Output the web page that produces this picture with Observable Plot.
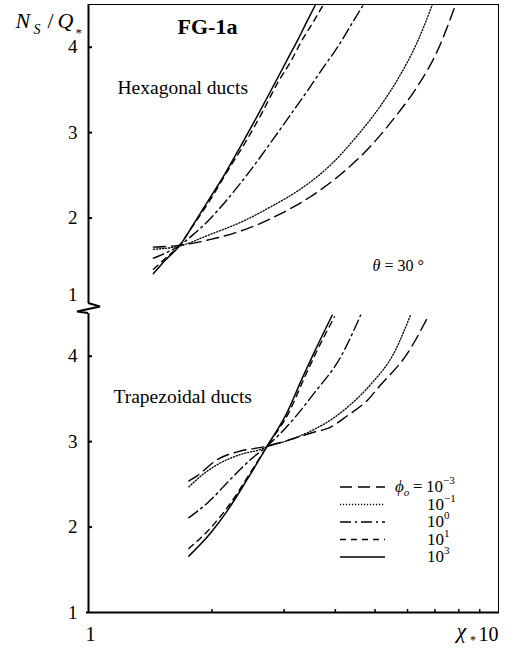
<!DOCTYPE html>
<html>
<head>
<meta charset="utf-8">
<script src="https://cdn.jsdelivr.net/npm/d3@7"></script>
<script src="https://cdn.jsdelivr.net/npm/@observablehq/plot@0.6"></script>
<style>
  html, body { margin: 0; padding: 0; background: #fff; }
  #chart svg { display: block; }
</style>
</head>
<body>
<div id="chart"></div>
<script>
// N_S/Q_* against χ* for two duct shapes, one curve per φo level.
const ducts = ["Hexagonal", "Trapezoidal"];
const phiLevels = ["1e-3", "1e-1", "1e0", "1e1", "1e3"];
const phiExponents = ["\u22123", "\u22121", "0", "1", "3"];
const yTicks = [2, 3, 4];
const yBottomTick = [1];
const xMinorTicks = [2, 3, 4, 5, 6, 7, 8, 9];
const xDomain = [1, 10];
const yDomain = [1, 4.5];

// Hexagonal ducts: [χ*, N_S/Q_*]
const hexPhiM3 = [[1.44,1.66],[1.658,1.68],[1.985,1.75],[2.484,1.89],[2.94,2.05],[3.479,2.25],[4.118,2.51],[4.873,2.84],[5.608,3.19],[6.38,3.56],[7.10,3.96],[7.86,4.5]];
const hexPhiM1 = [[1.44,1.635],[1.658,1.67],[1.985,1.81],[2.349,1.95],[2.779,2.13],[3.289,2.34],[3.892,2.62],[4.479,2.94],[5.096,3.28],[5.703,3.64],[6.31,4.04],[6.90,4.5]];
const hexPhi0 = [[1.44,1.53],[1.541,1.59],[1.658,1.67],[1.794,1.80],[1.951,1.96],[2.147,2.18],[2.349,2.41],[2.584,2.67],[2.827,2.93],[3.11,3.21],[3.421,3.49],[3.722,3.75],[4.05,4.0],[4.355,4.25],[4.686,4.5]];
const hexPhi1 = [[1.44,1.40],[1.541,1.53],[1.658,1.67],[1.804,1.92],[1.973,2.2],[2.183,2.55],[2.402,2.87],[2.642,3.22],[2.891,3.58],[3.145,3.87],[3.289,4.05],[3.518,4.28],[3.743,4.5]];
const hexPhi3 = [[1.44,1.35],[1.541,1.51],[1.658,1.66],[1.794,1.91],[1.951,2.19],[2.159,2.53],[2.349,2.84],[2.584,3.2],[2.827,3.55],[3.074,3.88],[3.235,4.08],[3.402,4.29],[3.58,4.5]];

// Trapezoidal ducts: [χ*, N_S/Q_*]
const trapPhiM3 = [[1.757,2.54],[1.84,2.60],[2.06,2.79],[2.349,2.89],[2.68,2.94],[2.94,2.99],[3.23,3.05],[3.54,3.11],[3.86,3.16],[4.27,3.30],[4.78,3.48],[5.15,3.66],[5.99,4.03],[6.76,4.48]];
const trapPhiM1 = [[1.757,2.47],[1.84,2.56],[2.06,2.73],[2.349,2.85],[2.63,2.91],[2.73,2.94],[3.05,3.01],[3.54,3.14],[3.97,3.28],[4.44,3.47],[4.9,3.68],[5.55,4.03],[6.10,4.48]];
const trapPhi0 = [[1.757,2.11],[1.948,2.28],[2.22,2.56],[2.484,2.79],[2.73,2.95],[3.17,3.27],[3.54,3.56],[4.12,3.99],[4.61,4.48]];
const trapPhi1 = [[1.757,1.75],[1.985,1.99],[2.22,2.28],[2.484,2.64],[2.73,2.95],[3.08,3.34],[3.35,3.73],[3.58,4.03],[3.98,4.46]];
const trapPhi3 = [[1.757,1.66],[1.985,1.93],[2.18,2.19],[2.44,2.56],[2.73,2.95],[3.05,3.34],[3.32,3.74],[3.54,4.03],[3.93,4.48]];

const curves = [
  {duct: "Hexagonal", phi: "1e-3", points: hexPhiM3},
  {duct: "Hexagonal", phi: "1e-1", points: hexPhiM1},
  {duct: "Hexagonal", phi: "1e0", points: hexPhi0},
  {duct: "Hexagonal", phi: "1e1", points: hexPhi1},
  {duct: "Hexagonal", phi: "1e3", points: hexPhi3},
  {duct: "Trapezoidal", phi: "1e-3", points: trapPhiM3},
  {duct: "Trapezoidal", phi: "1e-1", points: trapPhiM1},
  {duct: "Trapezoidal", phi: "1e0", points: trapPhi0},
  {duct: "Trapezoidal", phi: "1e1", points: trapPhi1},
  {duct: "Trapezoidal", phi: "1e3", points: trapPhi3}
];

// line style per φo level
const dashFor = {"1e-3": "12,6", "1e-1": "1.2,1.8", "1e0": "11,4,2,4", "1e1": "6,5", "1e3": null};
const widthFor = {"1e-3": 1.4, "1e-1": 1.3, "1e0": 1.4, "1e1": 1.4, "1e3": 1.5};

const serif = "'Liberation Serif', 'Times New Roman', Times, serif";

const curveMarks = curves.map(c => Plot.line(
  c.points.map(([x, y]) => ({x, y, duct: c.duct})),
  {
    x: "x", y: "y", fy: "duct",
    stroke: "black",
    strokeWidth: widthFor[c.phi],
    strokeDasharray: dashFor[c.phi],
    curve: "monotone-x"
  }
));

const inTop = () => ducts[0];
const inBottom = () => ducts[1];
const plain = d => `${d}`;

const plot = Plot.plot({
  width: 515,
  height: 648,
  marginTop: 4,
  marginRight: 17,
  marginBottom: 36,
  marginLeft: 88,
  style: {fontFamily: serif, fontSize: "19px", color: "black", background: "white"},
  x: {type: "log", domain: xDomain},
  y: {domain: yDomain},
  fy: {domain: ducts, padding: 0.033, axis: null},
  marks: [
    ...curveMarks,
    // frame: heavy left and bottom axes, light top and right borders
    Plot.ruleX([xDomain[0]], {strokeWidth: 2}),
    Plot.ruleY([yDomain[0]], {fy: inBottom, strokeWidth: 2, insetLeft: -1, strokeLinecap: "square"}),
    Plot.ruleY([yDomain[1]], {fy: inTop, strokeWidth: 1}),
    Plot.ruleX([xDomain[1]], {fy: inTop, strokeWidth: 1, insetBottom: -6}),
    Plot.ruleX([xDomain[1]], {fy: inBottom, strokeWidth: 1, insetTop: -6}),
    // axes
    Plot.axisY({ticks: yTicks, tickFormat: plain, tickSize: -4, tickPadding: 15, strokeWidth: 2, label: null, fontFamily: serif, fontSize: 19}),
    Plot.text(yBottomTick, {y: d => d, text: plain, fy: inTop, frameAnchor: "left", textAnchor: "end", dx: -11, dy: -9, fontSize: 19}),
    Plot.text(yBottomTick, {y: d => d, text: plain, fy: inBottom, frameAnchor: "left", textAnchor: "end", dx: -11, fontSize: 19}),
    Plot.axisX({ticks: xMinorTicks, tickSize: -3, strokeWidth: 1.5, tickFormat: () => "", label: null}),
    Plot.text([xDomain[0]], {x: d => d, text: plain, fy: inBottom, frameAnchor: "bottom", lineAnchor: "bottom", dx: 2, dy: 28.5, fontSize: 20}),
    Plot.text([xDomain[1]], {x: d => d, text: plain, fy: inBottom, frameAnchor: "bottom", lineAnchor: "bottom", textAnchor: "end", dy: 28.5, fontSize: 20}),
    // x title χ*
    Plot.text(["\u03C7"], {text: d => d, fy: inBottom, frameAnchor: "bottom-right", lineAnchor: "bottom", textAnchor: "start", dx: -42, dy: 25.5, fontSize: 22, fontStyle: "italic"}),
    Plot.text(["*"], {text: d => d, fy: inBottom, frameAnchor: "bottom-right", lineAnchor: "bottom", textAnchor: "start", dx: -28.5, dy: 31, fontSize: 12}),
    // y title N_S / Q_*
    Plot.text(["N"], {text: d => d, fy: inTop, frameAnchor: "top-left", lineAnchor: "bottom", textAnchor: "start", dx: -73, dy: 23, fontSize: 22, fontStyle: "italic"}),
    Plot.text(["S"], {text: d => d, fy: inTop, frameAnchor: "top-left", lineAnchor: "bottom", textAnchor: "start", dx: -55, dy: 29, fontSize: 14, fontStyle: "italic"}),
    Plot.text(["/"], {text: d => d, fy: inTop, frameAnchor: "top-left", lineAnchor: "bottom", textAnchor: "start", dx: -41, dy: 23, fontSize: 22}),
    Plot.text(["Q"], {text: d => d, fy: inTop, frameAnchor: "top-left", lineAnchor: "bottom", textAnchor: "start", dx: -31, dy: 23, fontSize: 22, fontStyle: "italic"}),
    Plot.text(["*"], {text: d => d, fy: inTop, frameAnchor: "top-left", lineAnchor: "bottom", textAnchor: "start", dx: -13, dy: 32, fontSize: 13}),
    // panel annotations
    Plot.text(["FG-1a"], {text: d => d, fy: inTop, frameAnchor: "top-left", lineAnchor: "bottom", textAnchor: "middle", dx: 119, dy: 29, fontSize: 22, fontWeight: "bold"}),
    Plot.text(["Hexagonal ducts"], {text: d => d, fy: inTop, frameAnchor: "top-left", lineAnchor: "bottom", textAnchor: "start", dx: 29, dy: 89, fontSize: 19.5}),
    Plot.text(["\u03B8"], {text: d => d, fy: inTop, frameAnchor: "top-left", lineAnchor: "bottom", textAnchor: "start", dx: 284, dy: 266, fontSize: 16, fontStyle: "italic"}),
    Plot.text(["= 30 \u00B0"], {text: d => d, fy: inTop, frameAnchor: "top-left", lineAnchor: "bottom", textAnchor: "start", dx: 296, dy: 266, fontSize: 16}),
    Plot.text(["Trapezoidal ducts"], {text: d => d, fy: inBottom, frameAnchor: "top-left", lineAnchor: "bottom", textAnchor: "start", dx: 25, dy: 89.5, fontSize: 19.5})
  ]
});

document.getElementById("chart").appendChild(plot);

const svg = d3.select(plot);
const fyScale = plot.scale("fy");
const xScale = plot.scale("x");

// axis break between the two panels
const x0 = xScale.apply(xDomain[0]);
const yA = fyScale.apply(ducts[0]) + fyScale.bandwidth;
const yB = fyScale.apply(ducts[1]);
const gap = yB - yA;
svg.append("path")
  .attr("d", `M${x0},${yA} l12,${gap * 0.35} l-23,${gap * 0.5} l11,${gap * 0.15}`)
  .attr("fill", "none")
  .attr("stroke", "black")
  .attr("stroke-width", 2)
  .attr("stroke-linejoin", "miter");

// legend of φo levels
const legend = svg.append("g")
  .attr("font-family", serif)
  .attr("text-anchor", "start")
  .attr("fill", "black");
const lx = 340, ly = 487, rowH = 17.5, sampleLen = 45, labelX = 426;
phiLevels.forEach((phi, i) => {
  const y = ly + i * rowH;
  legend.append("line")
    .attr("x1", lx).attr("x2", lx + sampleLen)
    .attr("y1", y).attr("y2", y)
    .attr("stroke", "black")
    .attr("stroke-width", widthFor[phi] + 0.2)
    .attr("stroke-dasharray", dashFor[phi]);
  const t = legend.append("text").attr("y", y + 5).attr("font-size", 17);
  if (i === 0) {
    t.append("tspan").attr("x", 395).attr("font-style", "italic").text("\u03D5");
    t.append("tspan").attr("font-style", "italic").attr("font-size", 11).attr("dy", 4).text("o");
    t.append("tspan").attr("x", 413).attr("dy", -4).text("=");
  }
  t.append("tspan").attr("x", labelX + (i === 0 ? 0 : 1)).text("10");
  t.append("tspan").attr("font-size", 11).attr("dy", -8).text(phiExponents[i]);
});
</script>
</body>
</html>
